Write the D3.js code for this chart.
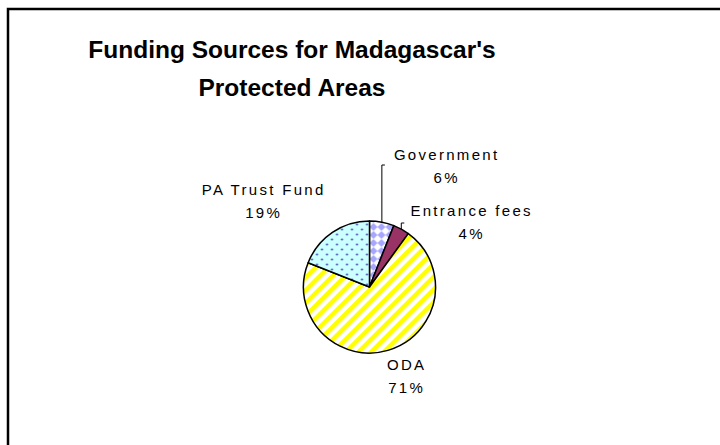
<!DOCTYPE html>
<html>
<head>
<meta charset="utf-8">
<script src="https://cdn.jsdelivr.net/npm/d3@7"></script>
<style>
  html, body { margin: 0; padding: 0; background: #fff; }
  svg { display: block; font-family: "Liberation Sans", Arial, sans-serif; }
</style>
</head>
<body>
<svg id="chart" width="720" height="445"></svg>
<script>
// Funding sources (share of total, %)
const categories = ["Government", "Entrance fees", "ODA", "PA Trust Fund"];
const shares = [6, 4, 71, 19];
const titleLines = ["Funding Sources for Madagascar's", "Protected Areas"];

// Label placement relative to pie centre (centre of the two-line block)
const labelOffsets = [[76, -121], [101, -65], [36, 89], [-107, -86]];

const svg = d3.select("#chart");
const W = 720, H = 445;
const cx = 369.5, cy = 287, R = 66;

// Fill patterns
const defs = svg.append("defs");

// Government: lavender diamonds on white
const pGov = defs.append("pattern").attr("id", "pGov")
  .attr("patternUnits", "userSpaceOnUse").attr("width", 8).attr("height", 8);
pGov.append("rect").attr("width", 8).attr("height", 8).attr("fill", "#fff");
pGov.append("path").attr("d", "M4,0 L8,4 L4,8 L0,4 Z").attr("fill", "#a6a6ff");

// ODA: yellow diagonal stripes on white
const pOda = defs.append("pattern").attr("id", "pOda")
  .attr("patternUnits", "userSpaceOnUse").attr("width", 9).attr("height", 9)
  .attr("patternTransform", "rotate(45)");
pOda.append("rect").attr("width", 9).attr("height", 9).attr("fill", "#fff");
pOda.append("rect").attr("width", 4.5).attr("height", 9).attr("fill", "#ffff00");

// PA Trust Fund: blue dots on pale cyan
const pPa = defs.append("pattern").attr("id", "pPa")
  .attr("patternUnits", "userSpaceOnUse").attr("width", 10).attr("height", 10);
pPa.append("rect").attr("width", 10).attr("height", 10).attr("fill", "#ccffff");
pPa.append("circle").attr("cx", 2.5).attr("cy", 2.5).attr("r", 1).attr("fill", "#3333aa");
pPa.append("circle").attr("cx", 7.5).attr("cy", 7.5).attr("r", 1).attr("fill", "#3333aa");

const fills = ["url(#pGov)", "#993366", "url(#pOda)", "url(#pPa)"];

// Chart frame (left and top edges visible)
svg.append("path")
  .attr("d", `M8,${H + 5} L8,9 L${W + 5},9`)
  .attr("fill", "none").attr("stroke", "#000").attr("stroke-width", 2.5);

// Title
const title = svg.append("text")
  .attr("text-anchor", "middle")
  .attr("font-weight", "bold")
  .attr("font-size", 24.5)
  .attr("fill", "#000");
titleLines.forEach((t, i) => {
  title.append("tspan").attr("x", 292).attr("y", 58 + i * 38).text(t);
});

// Pie
const pie = d3.pie().sort(null).value(d => d)(shares);
const arc = d3.arc().innerRadius(0).outerRadius(R);

const g = svg.append("g").attr("transform", `translate(${cx},${cy})`);
g.selectAll("path.slice")
  .data(pie)
  .join("path")
  .attr("class", "slice")
  .attr("d", arc)
  .attr("fill", (d, i) => fills[i])
  .attr("stroke", "#000")
  .attr("stroke-width", 1.5)
  .attr("stroke-linejoin", "round");

// Leader lines for the two small slices
const midAngle = d => (d.startAngle + d.endAngle) / 2;
const leaders = [
  { i: 0, top: -122 },
  { i: 1, top: -64 }
];
leaders.forEach(l => {
  const a = midAngle(pie[l.i]);
  const x0 = R * Math.sin(a), y0 = -R * Math.cos(a);
  g.append("path")
    .attr("d", `M${x0},${y0} L${x0},${l.top} L${x0 + 3},${l.top}`)
    .attr("fill", "none").attr("stroke", "#000").attr("stroke-width", 1);
});

// Category labels with percentages
const fmt = d3.format(".0%");
const total = d3.sum(shares);
const ls = 2.3;
pie.forEach((d, i) => {
  const [dx, dy] = labelOffsets[i];
  const t = g.append("text")
    .attr("text-anchor", "middle")
    .attr("font-size", 15)
    .attr("letter-spacing", ls)
    .attr("fill", "#000");
  t.append("tspan").attr("x", dx + ls / 2).attr("y", dy - 6).text(categories[i]);
  t.append("tspan").attr("x", dx + ls / 2).attr("y", dy + 17).text(fmt(shares[i] / total));
});
</script>
</body>
</html>
